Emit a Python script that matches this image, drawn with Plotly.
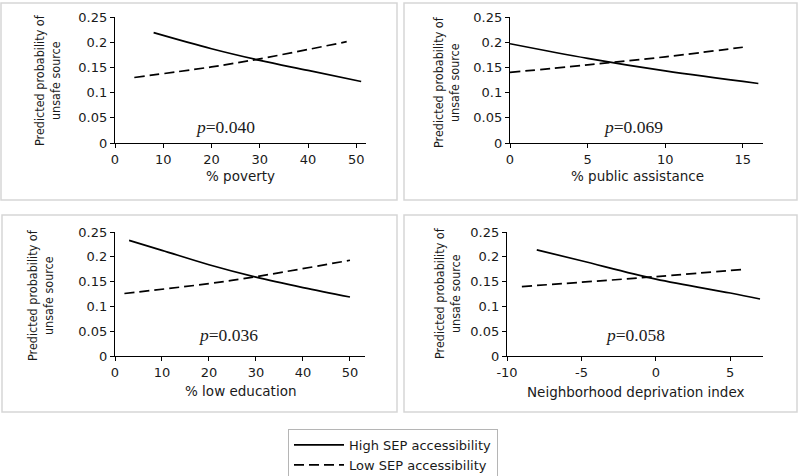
import plotly.graph_objects as go

# % poverty panel
poverty_x_high = [8, 20, 30, 40, 51]
poverty_high = [0.219, 0.187, 0.164, 0.144, 0.122]
poverty_x_low = [4, 20, 30, 48]
poverty_low = [0.130, 0.151, 0.167, 0.201]

# % public assistance panel
pubassist_x_high = [0, 5, 10, 16]
pubassist_high = [0.197, 0.168, 0.143, 0.118]
pubassist_x_low = [0, 5, 10, 15]
pubassist_low = [0.140, 0.155, 0.171, 0.190]

# % low education panel
lowedu_x_high = [3, 10, 20, 30, 40, 50]
lowedu_high = [0.233, 0.213, 0.184, 0.159, 0.138, 0.119]
lowedu_x_low = [2, 20, 30, 50]
lowedu_low = [0.126, 0.146, 0.160, 0.193]

# neighborhood deprivation index panel
ndi_x_high = [-8, -5, 0, 5, 7]
ndi_high = [0.214, 0.192, 0.155, 0.127, 0.115]
ndi_x_low = [-9, 0, 6]
ndi_low = [0.140, 0.160, 0.175]

y_ticks = [0, 0.05, 0.1, 0.15, 0.2, 0.25]
y_ticktext = ["0", "0.05", "0.1", "0.15", "0.2", "0.25"]

panels = [
    dict(xh=poverty_x_high, yh=poverty_high, xl=poverty_x_low, yl=poverty_low,
         title="% poverty", p="0.040", ticks=[0, 10, 20, 30, 40, 50],
         ticktext=["0", "10", "20", "30", "40", "50"], rng=[0, 52]),
    dict(xh=pubassist_x_high, yh=pubassist_high, xl=pubassist_x_low, yl=pubassist_low,
         title="% public assistance", p="0.069", ticks=[0, 5, 10, 15],
         ticktext=["0", "5", "10", "15"], rng=[0, 16.3]),
    dict(xh=lowedu_x_high, yh=lowedu_high, xl=lowedu_x_low, yl=lowedu_low,
         title="% low education", p="0.036", ticks=[0, 10, 20, 30, 40, 50],
         ticktext=["0", "10", "20", "30", "40", "50"], rng=[0, 53.2]),
    dict(xh=ndi_x_high, yh=ndi_high, xl=ndi_x_low, yl=ndi_low,
         title="Neighborhood deprivation index", p="0.058", ticks=[-10, -5, 0, 5],
         ticktext=["-10", "-5", "0", "5"], rng=[-10, 7.2]),
]

W, H = 800, 476
# pixel layout of each panel: plot area x0,x1,y0(top),y1(bottom); border box; label centers
boxes = [
    dict(px=(115, 366), py=(17, 143), box=(1, 3, 397, 200), ytl=(47, 80), xtl=(240, 176), pv=(225, 127)),
    dict(px=(510, 763), py=(17, 143), box=(404, 3, 797, 200), ytl=(446, 82), xtl=(637, 176), pv=(633, 127)),
    dict(px=(115, 365), py=(232, 356), box=(2, 215, 397, 412), ytl=(40, 295), xtl=(240, 391), pv=(228, 335)),
    dict(px=(507, 763), py=(232, 356), box=(404, 215, 797, 412), ytl=(447, 293), xtl=(635, 392), pv=(635, 335)),
]

tick_font = dict(family="DejaVu Sans, Verdana, sans-serif", size=13, color="#1a1a1a")

fig = go.Figure()
shapes = []
annotations = []

for i, (pn, bx) in enumerate(zip(panels, boxes), start=1):
    xa = "x" if i == 1 else f"x{i}"
    ya = "y" if i == 1 else f"y{i}"
    fig.add_trace(go.Scatter(
        x=pn["xh"], y=pn["yh"], mode="lines", line_shape="spline",
        line=dict(color="black", width=1.7),
        name="High SEP accessibility", legendgroup="high", showlegend=(i == 1),
        xaxis=xa, yaxis=ya))
    fig.add_trace(go.Scatter(
        x=pn["xl"], y=pn["yl"], mode="lines", line_shape="spline",
        line=dict(color="black", width=1.7, dash="10px,5px"),
        name="Low SEP accessibility", legendgroup="low", showlegend=(i == 1),
        xaxis=xa, yaxis=ya))

    suffix = "" if i == 1 else str(i)
    fig.layout["xaxis" + suffix] = dict(
        domain=[bx["px"][0] / W, bx["px"][1] / W], range=pn["rng"],
        anchor=ya, tickvals=pn["ticks"], ticktext=pn["ticktext"],
        showgrid=False, zeroline=False,
        showline=True, linecolor="black", linewidth=1.3, automargin=False,
        ticks="outside", ticklen=4, tickcolor="black", tickfont=tick_font)
    fig.layout["yaxis" + suffix] = dict(
        domain=[1 - bx["py"][1] / H, 1 - bx["py"][0] / H], range=[0, 0.25],
        anchor=xa, tickvals=y_ticks, ticktext=y_ticktext, showgrid=False,
        zeroline=False, showline=True, linecolor="black", linewidth=1.3,
        automargin=False,
        ticks="outside", ticklen=4, tickcolor="black", tickfont=tick_font)

    x0, y0, x1, y1 = bx["box"]
    shapes.append(dict(type="rect", xref="paper", yref="paper",
                       x0=x0 / W, x1=x1 / W, y0=1 - y1 / H, y1=1 - y0 / H,
                       line=dict(color="#d6d6d6", width=1.5)))

    annotations.append(dict(
        xref="paper", yref="paper", x=bx["ytl"][0] / W, y=1 - bx["ytl"][1] / H,
        text="Predicted probability of<br>unsafe source", textangle=-90,
        showarrow=False, xanchor="center", yanchor="middle",
        font=dict(family="Liberation Sans Narrow, DejaVu Sans Condensed, Liberation Sans, sans-serif",
                  size=12.5, color="#1a1a1a")))
    annotations.append(dict(
        xref="paper", yref="paper", x=bx["xtl"][0] / W, y=1 - bx["xtl"][1] / H,
        text=pn["title"], showarrow=False, xanchor="center", yanchor="middle",
        font=dict(family="DejaVu Sans, Verdana, sans-serif", size=13.5, color="#1a1a1a")))
    annotations.append(dict(
        xref="paper", yref="paper", x=bx["pv"][0] / W, y=1 - bx["pv"][1] / H,
        text=f"<i>p</i>={pn['p']}", showarrow=False, xanchor="center", yanchor="middle",
        font=dict(family="Liberation Serif, DejaVu Serif, serif", size=17.5, color="#1a1a1a")))

fig.update_layout(
    width=W, height=H,
    margin=dict(l=0, r=0, t=0, b=0, pad=0, autoexpand=False),
    plot_bgcolor="white", paper_bgcolor="white",
    shapes=shapes, annotations=annotations,
    showlegend=True,
    legend=dict(x=288 / W, y=1 - 429 / H, xanchor="left", yanchor="top",
                bordercolor="#b5b5b5", borderwidth=1, bgcolor="white",
                font=dict(family="DejaVu Sans, Verdana, sans-serif", size=13, color="#1a1a1a"),
                itemwidth=50, tracegroupgap=0),
)

fig.write_html("out.html", config={"displayModeBar": False},
               post_script="document.body.style.margin='0';")
